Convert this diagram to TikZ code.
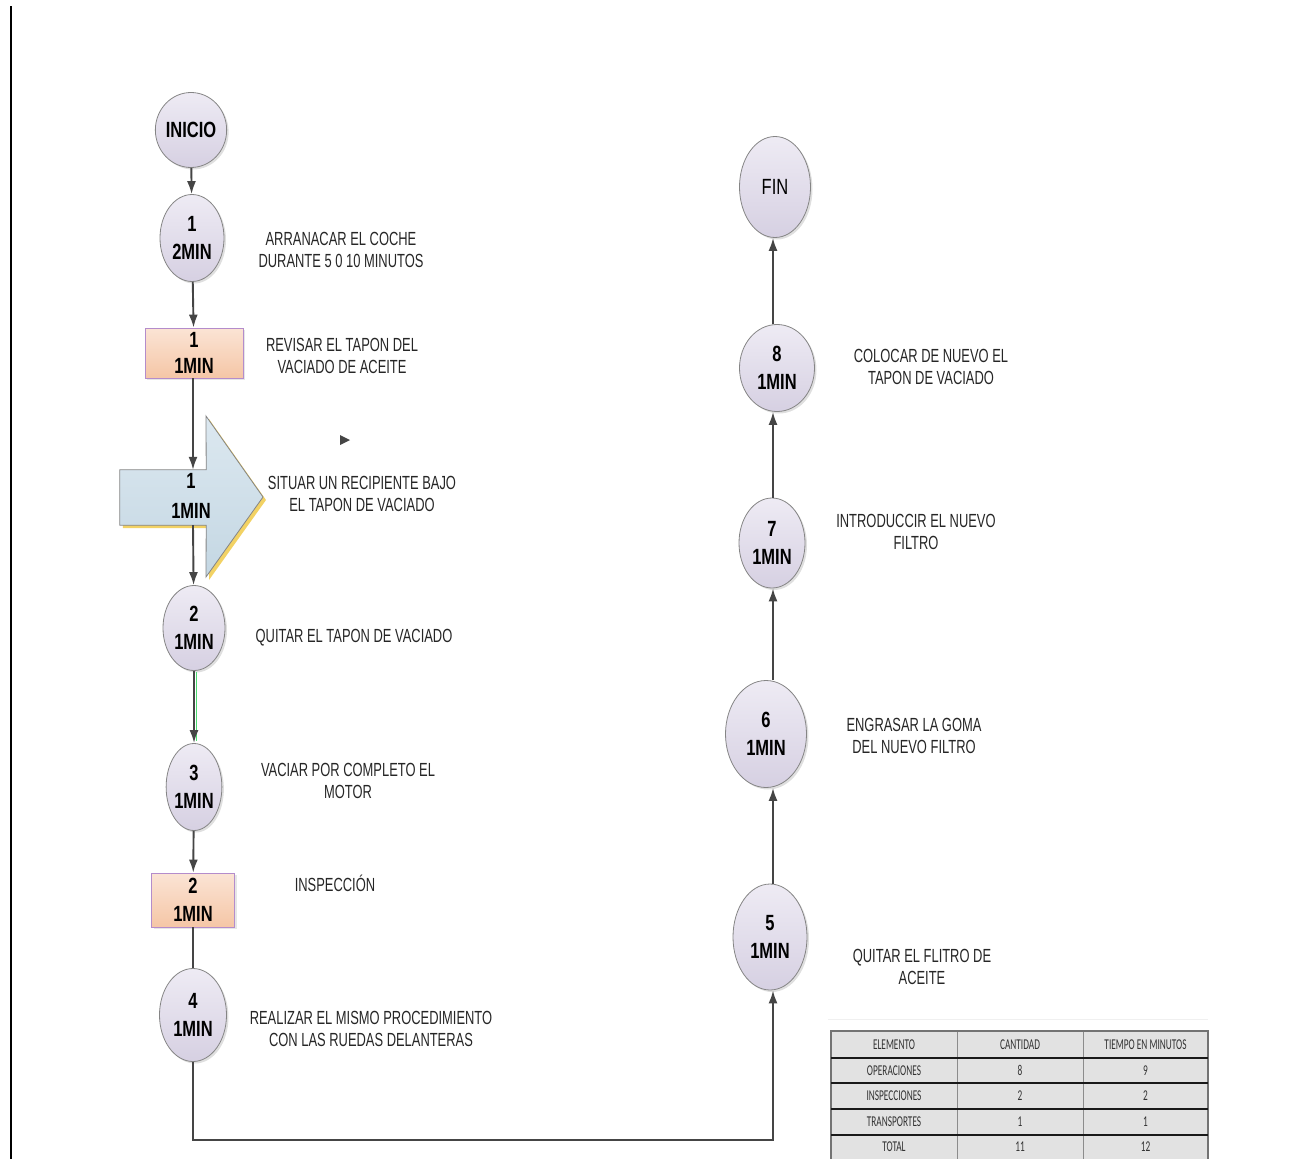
\documentclass[tikz,border=0pt]{standalone}
\usepackage{fontspec}
\setmainfont{Liberation Sans}
\newfontfamily\etiq[FakeStretch=0.68]{Liberation Sans}
\newfontfamily\nodo[FakeStretch=0.75]{Liberation Sans}
\newfontfamily\tabla[FakeStretch=0.62]{Carlito}
\usetikzlibrary{arrows,arrows.meta,shapes.geometric,shadows}

\definecolor{lilaclaro}{HTML}{EEEBF4}
\definecolor{lilaosc}{HTML}{D6D0E2}
\definecolor{borde}{HTML}{858585}
\definecolor{durazno}{HTML}{FBE4D5}
\definecolor{duraznoosc}{HTML}{F5C6A6}
\definecolor{morado}{HTML}{B48CCB}
\definecolor{celeste}{HTML}{DCE8F0}
\definecolor{celesteosc}{HTML}{C4D7E3}
\definecolor{amarillo}{HTML}{F2D264}
\definecolor{linea}{HTML}{454545}
\definecolor{gristab}{HTML}{E2E2E2}

\tikzset{
	oper/.style={ellipse, draw=borde, line width=0.8pt, top color=lilaclaro, bottom color=lilaosc,
		inner sep=0pt, align=center, font=\nodo\bfseries\fontsize{22}{28}\selectfont,
		drop shadow={shadow xshift=2pt, shadow yshift=-2pt, opacity=0.25}},
	insp/.style={rectangle, draw=morado, line width=0.8pt, top color=durazno, bottom color=duraznoosc,
		inner sep=0pt, align=center, font=\nodo\bfseries\fontsize{22}{28}\selectfont,
		drop shadow={shadow xshift=2pt, shadow yshift=-2pt, opacity=0.2}},
	desc/.style={align=center, inner sep=0pt, text=black!85, font=\etiq\fontsize{19}{22}\selectfont},
	flecha/.style={-{Latex[length=13pt,width=9pt]}, draw=linea, line width=1.9pt},
	tramo/.style={draw=linea, line width=1.9pt},
	celda/.style={inner sep=0pt, text=black!80, font=\tabla\fontsize{15}{15}\selectfont}
}

\begin{document}
\begin{tikzpicture}[x=1pt, y=-1pt]
	\useasboundingbox (0,0) rectangle (1307,1159);
	
	% Margin line
	\draw[line width=2.5pt] (11,6) -- (11,1159);
	
	% Left column
	\node[oper, minimum width=62pt, minimum height=75pt] (inicio) at (191,130) {INICIO};
	\node[oper, minimum width=64pt, minimum height=87pt] (op1) at (192,238) {1\\2MIN};
	\node[insp, minimum width=98pt, minimum height=50pt] (ins1) at (194,353) {1\\[-2pt]1MIN};
	
	% Transport arrow
	\node[inner sep=0pt, minimum width=86pt, minimum height=55pt] (tr1) at (163,497.5) {};
	\fill[amarillo] ([shift={(3,3)}]tr1.north west) -- ([shift={(3,3)}]tr1.north east) -- (209,419) -- (266,500)
		-- (209,580) -- ([shift={(3,3)}]tr1.south east) -- ([shift={(3,3)}]tr1.south west) -- cycle;
	\draw[draw=borde, line width=0.8pt, top color=celeste, bottom color=celesteosc]
		(tr1.north west) -- (tr1.north east) -- (206,416) -- (263,497) -- (206,577)
		-- (tr1.south east) -- (tr1.south west) -- cycle;
	\node[align=center, inner sep=0pt, font=\nodo\bfseries\fontsize{22}{30}\selectfont] (tr1txt) at (191,496) {1\\1MIN};
	
	\node[oper, minimum width=62pt, minimum height=85pt] (op2) at (194,628) {2\\1MIN};
	\node[oper, minimum width=54pt, minimum height=87pt] (op3) at (194,787) {3\\1MIN};
	\node[insp, minimum width=83pt, minimum height=54pt] (ins2) at (193,900) {2\\1MIN};
	\node[oper, minimum width=67pt, minimum height=93pt] (op4) at (193,1015) {4\\1MIN};
	
	% Right column
	\node[oper, minimum width=74pt, minimum height=106pt] (op5) at (770,937) {5\\1MIN};
	\node[oper, minimum width=81pt, minimum height=107pt] (op6) at (766,734) {6\\1MIN};
	\node[oper, minimum width=66pt, minimum height=90pt] (op7) at (772,543) {7\\1MIN};
	\node[oper, minimum width=75pt, minimum height=87pt] (op8) at (777,368) {8\\1MIN};
	\node[oper, minimum width=71pt, minimum height=101pt, font=\nodo\fontsize{22}{28}\selectfont] (fin) at (775,187) {FIN};
	
	% Connectors
	\draw[flecha] (inicio) -- (op1);
	\draw[flecha] (op1) -- (ins1);
	\draw[flecha] (ins1.south -| 193,0) -- (193,0 |- tr1.north);
	\draw[flecha] (193,0 |- tr1.south) -- (op2);
	\draw[line width=1pt, green!60!teal!70] (196.5,672) -- (196.5,741);
	\draw[flecha] (op2) -- (op3);
	\draw[flecha] (op3) -- (ins2);
	\draw[tramo] (ins2) -- (op4);
	\draw[flecha] (op4.south) -- ++(0,78) -| (773,0 |- op5.south);
	\draw[flecha] (773,0 |- op5.north) -- (773,0 |- op6.south);
	\draw[flecha] (773,0 |- op6.north) -- (773,0 |- op7.south);
	\draw[flecha] (773,0 |- op7.north) -- (773,0 |- op8.south);
	\draw[flecha] (773,0 |- op8.north) -- (773,0 |- fin.south);
	
	% Stray tip
	\fill[linea] (340,435) -- (350,440) -- (340,445) -- cycle;
	
	% Descriptions
	\node[desc] (d1) at (341,250) {ARRANACAR EL COCHE\\DURANTE 5 0 10 MINUTOS};
	\node[desc] (d2) at (342,356) {REVISAR EL TAPON DEL\\VACIADO DE ACEITE};
	\node[desc] (d3) at (362,494) {SITUAR UN RECIPIENTE BAJO\\EL TAPON DE VACIADO};
	\node[desc] (d4) at (354,638) {QUITAR EL TAPON DE VACIADO};
	\node[desc] (d5) at (348,781) {VACIAR POR COMPLETO EL\\MOTOR};
	\node[desc] (d6) at (335,883) {INSPECCIÓN};
	\node[desc] (d7) at (371,1029) {REALIZAR EL MISMO PROCEDIMIENTO\\CON LAS RUEDAS DELANTERAS};
	\node[desc] (d8) at (931,367) {COLOCAR DE NUEVO EL\\TAPON DE VACIADO};
	\node[desc] (d9) at (916,532) {INTRODUCCIR EL NUEVO\\FILTRO};
	\node[desc] (d10) at (914,736) {ENGRASAR LA GOMA\\DEL NUEVO FILTRO};
	\node[desc] (d11) at (922,967) {QUITAR EL FLITRO DE\\ACEITE};
	
	% Summary table
	\draw[black!6, line width=1pt] (828,1019) -- (1208,1019);
	\fill[gristab] (831,1031) rectangle (1208,1160);
	\foreach \x in {957,1083}
	\draw[black!45, line width=1pt] (\x,1031) -- (\x,1160);
	\draw[black!55, line width=1.2pt] (831,1160) -- (831,1031) -- (1208,1031) -- (1208,1160);
	\foreach \y in {1058,1083,1109,1135}
	\draw[black!90, line width=1.5pt] (831,\y) -- (1208,\y);
	\foreach \f/\y/\a/\b/\c in {0/1044.5/ELEMENTO/CANTIDAD/TIEMPO EN MINUTOS,
		1/1070.5/OPERACIONES/8/9, 2/1096/INSPECCIONES/2/2,
		3/1122/TRANSPORTES/1/1, 4/1147/TOTAL/11/12}
	{
		\node[celda] (t\f a) at (894,\y) {\a};
		\node[celda] (t\f b) at (1020,\y) {\b};
		\node[celda] (t\f c) at (1145.5,\y) {\c};
	}
\end{tikzpicture}
\end{document}
